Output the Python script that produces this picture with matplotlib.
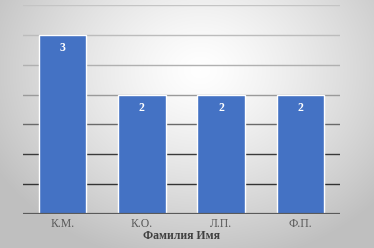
import numpy as np
import matplotlib
matplotlib.use("Agg")
import matplotlib.pyplot as plt

categories = ["К.М.", "К.О.", "Л.П.", "Ф.П."]
values = [3, 2, 2, 2]
axis_title = "Фамилия Имя"

W, H = 374, 248
fig = plt.figure(figsize=(W / 100, H / 100), dpi=100)

# radial gradient background
bg = fig.add_axes([0, 0, 1, 1], zorder=0)
yy, xx = np.mgrid[0:H, 0:W]
cx, cy = 200, 70
d = np.sqrt(((xx - cx) / 230.0) ** 2 + ((yy - cy) / 190.0) ** 2)
g = np.clip(1.0 - 0.24 * d ** 1.3, 0.75, 1.0)
bg.imshow(np.dstack([g, g, g]), aspect="auto", extent=[0, W, H, 0])
bg.axis("off")

ax = fig.add_axes([23 / W, 34 / H, 317 / W, 209 / H], zorder=1)
ax.patch.set_alpha(0)
x = np.arange(len(categories))
ax.set_xlim(-0.5, len(categories) - 0.5)
ax.set_ylim(0, 3.5)

grid_vals = np.arange(0.5, 3.51, 0.5)
grid_cols = ["#333333", "#3a3a3a", "#6a6a6a", "#9a9a9a", "#b0b0b0", "#bcbcbc", "#c4c4c4"]
for gv, gc in zip(grid_vals, grid_cols):
    ax.axhline(gv, color=gc, lw=1.0, zorder=1)
ax.axhline(0, color="#5a5a5a", lw=1.6, zorder=3)

bars = ax.bar(x, values, width=0.6, color="#4472c4", edgecolor="white", linewidth=1.0, zorder=2)
for xi, v in zip(x, values):
    ax.text(xi, v - 0.12, str(v), ha="center", va="top", color="white",
            fontsize=8.5, fontweight="bold", family="Liberation Serif", zorder=4)

ax.set_xticks(x)
ax.set_xticklabels(categories, family="Liberation Serif", fontsize=8.5, color="#595959")
ax.tick_params(axis="x", length=0, pad=3)
ax.set_yticks([])
for s in ax.spines.values():
    s.set_visible(False)
ax.set_xlabel(axis_title, family="Liberation Serif", fontsize=8.5, fontweight="bold",
              color="#404040", labelpad=0)

fig.savefig("out.png", dpi=100)
